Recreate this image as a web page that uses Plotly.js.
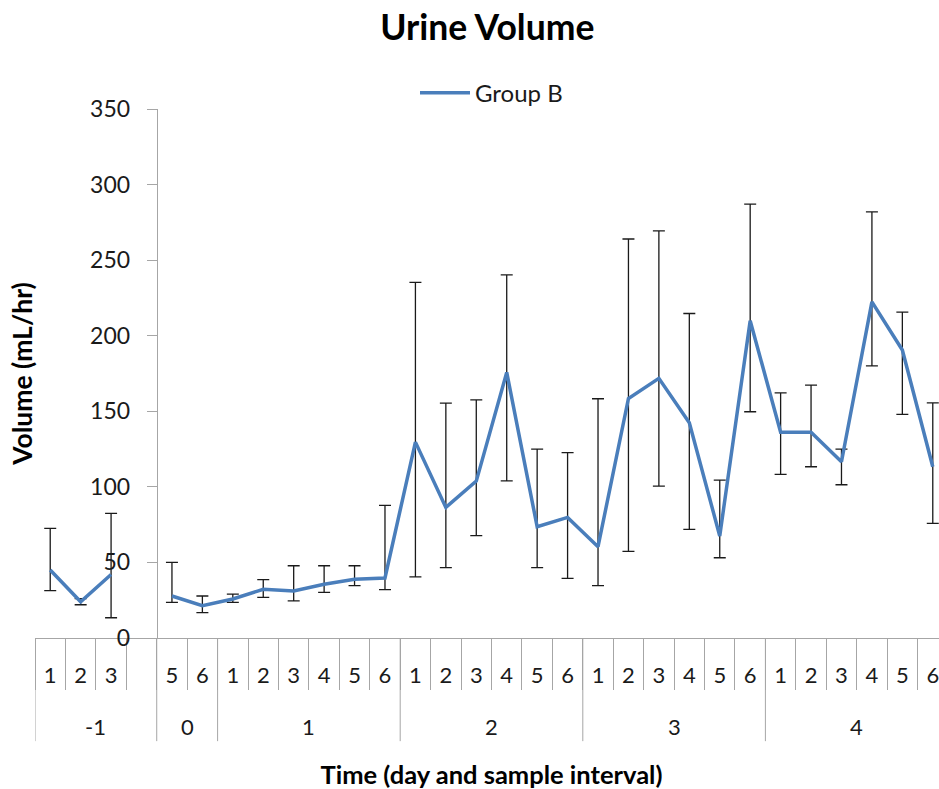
<!DOCTYPE html>
<html>
<head>
<meta charset="utf-8">
<script src="https://cdn.plot.ly/plotly-3.0.1.min.js"></script>
<style>
  html, body { margin: 0; padding: 0; overflow: hidden; background: #fff; }
  #chart { width: 950px; height: 789px; }
</style>
</head>
<body>
<div id="chart"></div>
<script>
// Day (outer category level)
const days = ['-1','-1','-1','-1','0','0',
  '1','1','1','1','1','1',
  '2','2','2','2','2','2',
  '3','3','3','3','3','3',
  '4','4','4','4','4','4'];
// Sample interval (inner category level); ' ' is the empty slot in day -1
const intervals = ['1','2','3',' ','5','6',
  '1','2','3','4','5','6',
  '1','2','3','4','5','6',
  '1','2','3','4','5','6',
  '1','2','3','4','5','6'];
// Group B mean urine volume (mL/hr)
const groupB = [45, 24, 42, null, 27.8, 21.4,
  25.8, 32.2, 31.1, 35.5, 38.8, 39.7,
  129.6, 86.4, 103.8, 175.7, 73.6, 79.8,
  60.4, 158.5, 171.8, 142.4, 67.5, 209.9,
  136.2, 136.2, 116.6, 222.4, 190.5, 113.3];
// Error bar extents (upper / lower)
const errPlus = [27.5, 2, 40.5, null, 22.2, 6.4,
  3.2, 6.4, 16.7, 12.3, 9, 48.1,
  105.7, 69, 53.8, 64.6, 51.4, 42.8,
  97.9, 105.5, 97.6, 72.3, 37, 77.1,
  26, 31.1, 8.4, 59.6, 25.1, 42.3];
const errMinus = [13.7, 2, 28.6, null, 4.2, 4.6,
  2.2, 5.3, 6.6, 5.3, 4.2, 7.7,
  89.2, 39.9, 36.1, 71.7, 27.1, 40.3,
  25.8, 101.2, 71.3, 70.5, 14.4, 60.2,
  27.9, 22.9, 15.2, 42.3, 42.5, 37.4];
const yTicks = [0, 50, 100, 150, 200, 250, 300, 350];

const FONT = 'Lato, "Open Sans", sans-serif';
const AXIS_GRAY = '#a6a6a6';
const TEXT = '#1a1a1a';

// category slot indices
const slot = intervals.map((_, i) => i);
const n = intervals.length;
const boundaries = Array.from({ length: n + 1 }, (_, i) => i - 0.5);

// day groups: start/end slot indices
const groups = [];
days.forEach((d, i) => {
  const g = groups[groups.length - 1];
  if (g && g.label === d) g.end = i;
  else groups.push({ label: d, start: i, end: i });
});

const shapes = [];
groups.forEach((g, k) => {
  if (k === 0) {
    shapes.push({ type: 'line', xref: 'x', yref: 'paper', x0: g.start - 0.5, x1: g.start - 0.5,
      y0: 0, y1: -0.195, line: { color: AXIS_GRAY, width: 1 } });
  }
  shapes.push({ type: 'line', xref: 'x', yref: 'paper', x0: g.end + 0.5, x1: g.end + 0.5,
    y0: 0, y1: -0.195, line: { color: AXIS_GRAY, width: 1 } });
});

const annotations = groups.map(g => ({
  xref: 'x', yref: 'paper',
  x: (g.start + g.end) / 2, y: -0.168,
  xanchor: 'center', yanchor: 'middle',
  text: g.label, showarrow: false,
  font: { family: FONT, size: 22, color: TEXT }
}));

const trace = {
  type: 'scatter',
  mode: 'lines',
  name: 'Group B',
  x: slot,
  y: groupB,
  connectgaps: false,
  line: { color: '#4a7ebb', width: 3.5 },
  error_y: {
    type: 'data',
    symmetric: false,
    array: errPlus,
    arrayminus: errMinus,
    color: '#1a1a1a',
    thickness: 1.3,
    width: 6
  }
};

const layout = {
  width: 950,
  height: 789,
  margin: { l: 35, r: 2, t: 109, b: 151 },
  paper_bgcolor: '#fff',
  plot_bgcolor: '#fff',
  font: { family: FONT, color: TEXT },
  title: {
    text: '<b>Urine Volume</b>',
    font: { family: FONT, size: 35.5, color: '#000' },
    x: 0.513, xanchor: 'center',
    y: 0.965, yanchor: 'middle'
  },
  showlegend: true,
  legend: {
    orientation: 'h',
    x: 0.5, xanchor: 'center',
    y: 1.03, yanchor: 'middle',
    font: { family: FONT, size: 24, color: TEXT },
    itemwidth: 50
  },
  shapes: shapes,
  annotations: annotations,
  xaxis: {
    type: 'linear',
    range: [-0.5, n - 0.5],
    tickvals: slot,
    ticktext: intervals,
    ticks: '',
    ticklabelstandoff: 18,
    minor: {
      tickvals: boundaries,
      ticks: 'outside',
      ticklen: 51,
      tickcolor: AXIS_GRAY,
      tickwidth: 1,
      showgrid: false
    },
    showline: true,
    linecolor: AXIS_GRAY,
    linewidth: 1,
    showgrid: false,
    zeroline: false,
    tickfont: { family: FONT, size: 22, color: TEXT },
    title: {
      text: '<b>Time (day and sample interval)</b>',
      font: { family: FONT, size: 25.5, color: '#000' },
      standoff: 83
    }
  },
  yaxis: {
    range: [0, 350],
    tickvals: yTicks,
    anchor: 'free',
    position: 4 / 30,
    showline: true,
    linecolor: AXIS_GRAY,
    linewidth: 1,
    ticks: 'outside',
    ticklen: 10,
    tickcolor: AXIS_GRAY,
    ticklabelstandoff: 12,
    showgrid: false,
    zeroline: false,
    tickfont: { family: FONT, size: 23, color: TEXT },
    title: {
      text: '<b>Volume (mL/hr)</b>',
      font: { family: FONT, size: 26.5, color: '#000' },
      standoff: 48
    }
  }
};

Plotly.newPlot('chart', [trace], layout, { displayModeBar: false, staticPlot: true });
</script>
</body>
</html>
